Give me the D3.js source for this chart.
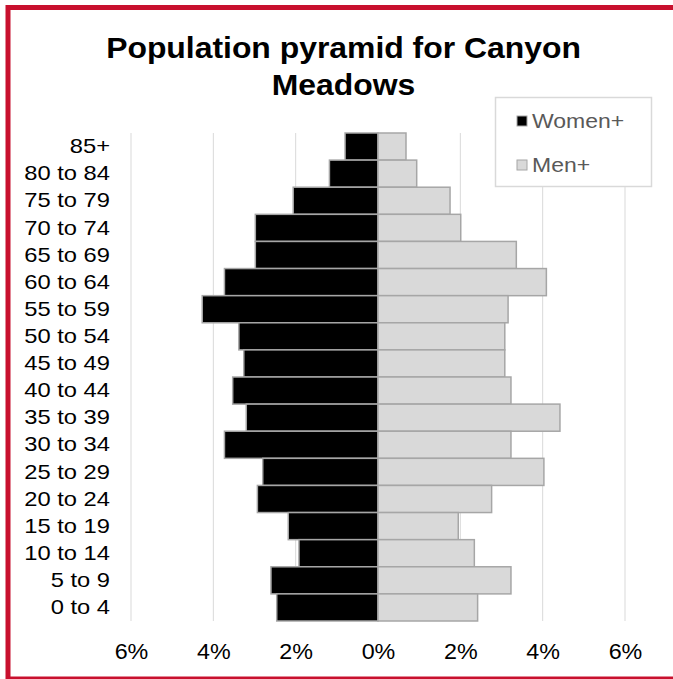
<!DOCTYPE html>
<html>
<head>
<meta charset="utf-8">
<script src="https://cdn.jsdelivr.net/npm/d3@7"></script>
<style>
  html, body { margin: 0; padding: 0; background: #fff; }
  svg { display: block; }
  text { font-family: "Liberation Sans", Arial, sans-serif; }
</style>
</head>
<body>
<script>
const categories = ["85+","80 to 84","75 to 79","70 to 74","65 to 69","60 to 64","55 to 59","50 to 54","45 to 49","40 to 44","35 to 39","30 to 34","25 to 29","20 to 24","15 to 19","10 to 14","5 to 9","0 to 4"];
const women = [0.80,1.18,2.06,2.98,2.98,3.73,4.27,3.38,3.26,3.53,3.20,3.73,2.80,2.93,2.18,1.92,2.60,2.46];
const men   = [0.68,0.94,1.75,2.01,3.36,4.09,3.16,3.08,3.08,3.23,4.42,3.23,4.03,2.76,1.95,2.34,3.23,2.42];
const tickValues = [-6,-4,-2,0,2,4,6];
const seriesNames = ["Women+","Men+"];
const seriesColors = ["#000000","#d9d9d9"];
const title = ["Population pyramid for Canyon","Meadows"];

const W = 673, H = 679;
const svg = d3.select("body").append("svg").attr("width", W).attr("height", H);

// red frame
svg.append("rect").attr("x", 8).attr("y", 7.5).attr("width", 720).attr("height", 671.5)
  .attr("fill", "#fff").attr("stroke", "#c8102e").attr("stroke-width", 5);

const x = d3.scaleLinear().domain([-6, 6]).range([131, 625]);
const y = d3.scaleBand().domain(categories).range([133, 621]).padding(0);

// gridlines
svg.append("g").selectAll("line").data(tickValues).join("line")
  .attr("x1", d => x(d)).attr("x2", d => x(d))
  .attr("y1", 133).attr("y2", 621)
  .attr("stroke", "#d9d9d9").attr("stroke-width", 1);

// bars
const bars = svg.append("g");
bars.selectAll("rect.w").data(categories).join("rect").attr("class","w")
  .attr("x", (d,i) => x(-women[i])).attr("y", d => y(d))
  .attr("width", (d,i) => x(0) - x(-women[i])).attr("height", y.bandwidth())
  .attr("fill", seriesColors[0]).attr("stroke", "#a6a6a6").attr("stroke-width", 1.5);
bars.selectAll("rect.m").data(categories).join("rect").attr("class","m")
  .attr("x", x(0)).attr("y", d => y(d))
  .attr("width", (d,i) => x(men[i]) - x(0)).attr("height", y.bandwidth())
  .attr("fill", seriesColors[1]).attr("stroke", "#a6a6a6").attr("stroke-width", 1.5);

// category axis labels
const yAxis = d3.axisLeft(y).tickSize(0).tickPadding(0);
const gy = svg.append("g").attr("transform", "translate(110,0)").call(yAxis);
gy.select(".domain").remove();
gy.selectAll("text").attr("font-size", 21).attr("fill", "#000")
  .attr("transform", "scale(1.13,1)")
  .style("font-family", '"Liberation Sans", Arial, sans-serif');

// x axis labels
const xAxis = d3.axisBottom(x).tickValues(tickValues).tickSize(0).tickPadding(0)
  .tickFormat(d => Math.abs(d) + "%");
const gx = svg.append("g").attr("transform", "translate(0,643)").call(xAxis);
gx.select(".domain").remove();
gx.selectAll("text").attr("font-size", 22).attr("fill", "#000")
  .attr("transform", "scale(1.06,1)")
  .style("font-family", '"Liberation Sans", Arial, sans-serif');

// title
svg.append("g").selectAll("text").data(title).join("text")
  .attr("transform", (d,i) => `translate(343.5,${58 + i * 37}) scale(1.1,1)`)
  .attr("text-anchor", "middle").attr("font-size", 29).attr("font-weight", "bold")
  .attr("fill", "#000").text(d => d);

// legend
const lg = svg.append("g");
lg.append("rect").attr("x", 495.5).attr("y", 97.5).attr("width", 156).attr("height", 89)
  .attr("fill", "#fff").attr("stroke", "#d9d9d9").attr("stroke-width", 1.5);
const items = lg.selectAll("g.item").data(seriesNames).join("g").attr("class","item")
  .attr("transform", (d,i) => `translate(0,${121 + i*44})`);
items.append("rect").attr("x", 517).attr("y", -5).attr("width", 10).attr("height", 10)
  .attr("fill", (d,i) => seriesColors[i]).attr("stroke", "#a6a6a6").attr("stroke-width", 1);
items.append("text").attr("transform", "translate(532,0) scale(1.15,1)").attr("dy", "0.35em")
  .attr("font-size", 20).attr("fill", "#595959").text(d => d);
</script>
</body>
</html>
